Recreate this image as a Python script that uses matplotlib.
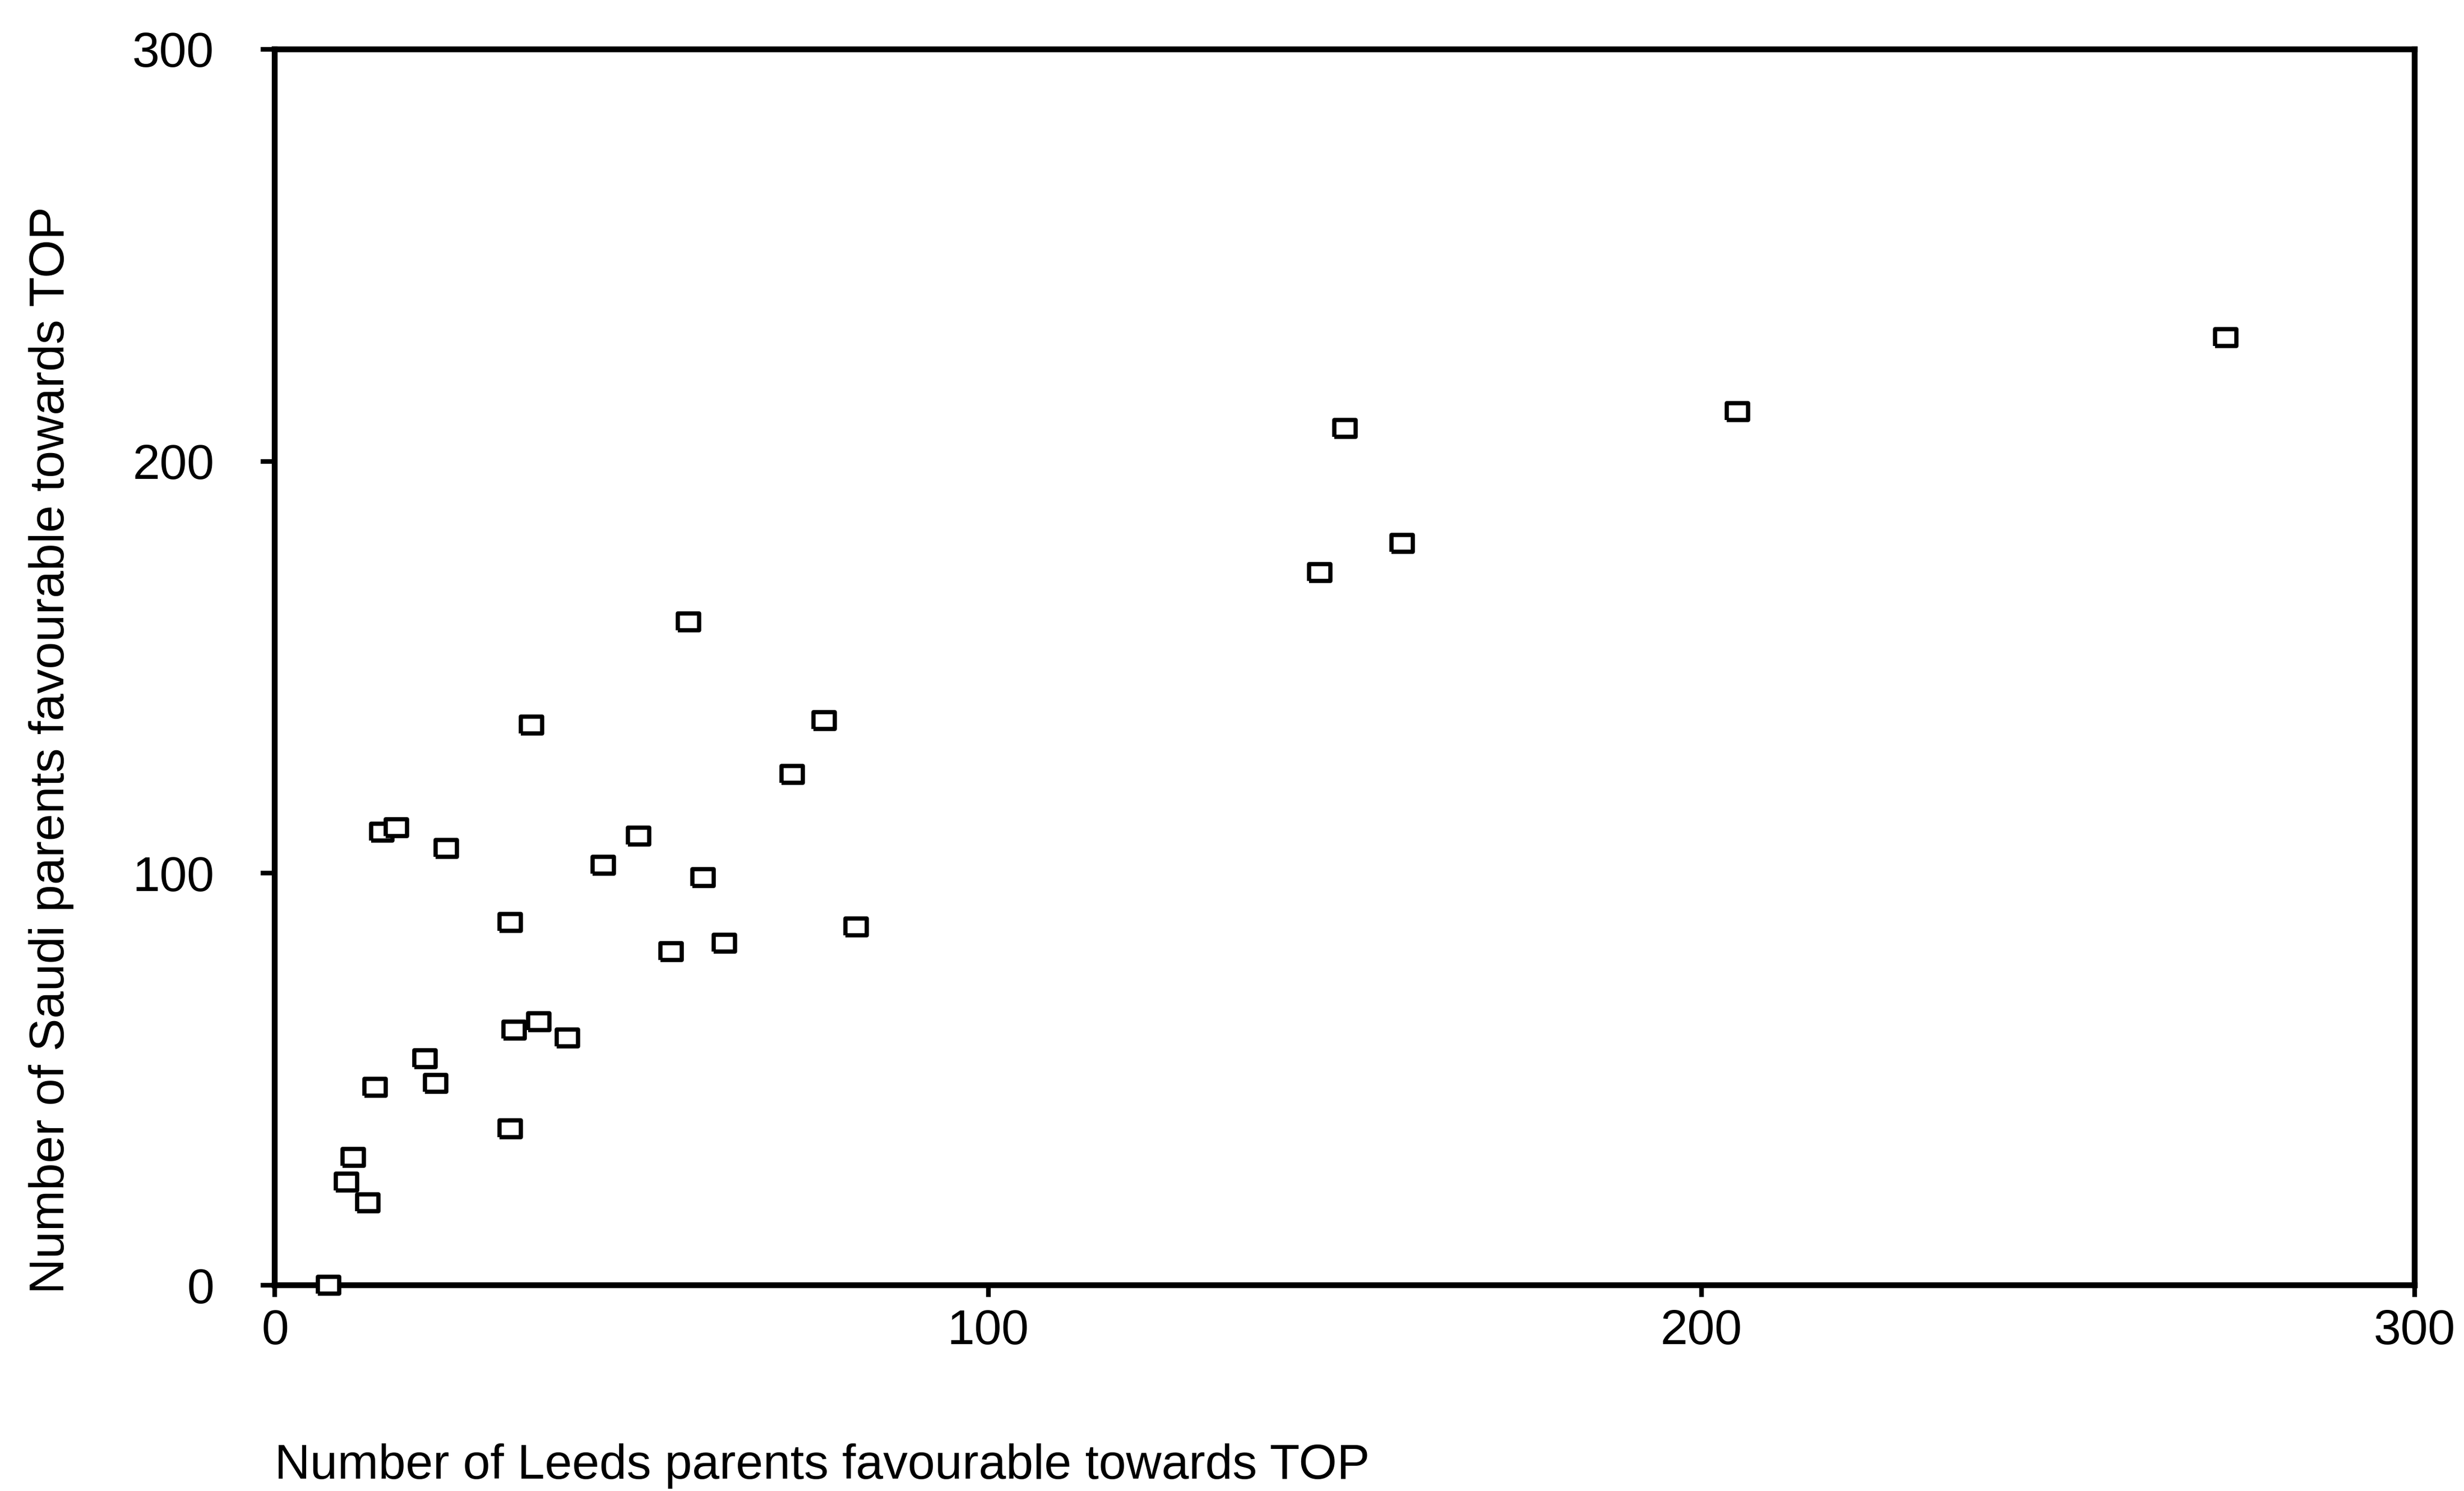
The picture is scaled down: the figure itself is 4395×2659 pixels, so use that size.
import matplotlib
matplotlib.use("Agg")
import matplotlib.pyplot as plt

# Leeds vs Saudi parents favourable towards TOP
leeds = [7.5, 10, 11, 13, 14, 15, 17, 21, 22.5, 24,
         33, 33, 33.5, 37, 36, 41, 46, 51, 55.5, 58,
         60, 63, 72.5, 77, 81.5, 146.5, 150, 158, 205, 273.5]
saudi = [0, 25, 31, 20, 48, 110, 111, 55, 49, 106,
         88, 38, 62, 64, 136, 60, 102, 109, 81, 161,
         99, 83, 124, 137, 87, 173, 208, 180, 212, 230]

ticks = [0, 100, 200, 300]
xlabel = "Number of Leeds parents favourable towards TOP"
ylabel = "Number of Saudi parents favourable towards TOP"

plt.rcParams['font.family'] = ['Liberation Sans', 'DejaVu Sans']
plt.rcParams['font.size'] = 21

fig = plt.figure(figsize=(4395 / 300, 2659 / 300), dpi=300)
ax = fig.add_axes([0.1116, 0.138, 0.8684, 0.829])

# slightly wide open square, like the scanned markers
box = [(-1.24, -1), (1.24, -1), (1.24, 1), (-1.24, 1), (-1.24, -1)]
ax.plot(leeds, saudi, linestyle='none', marker=box, markersize=9,
        markerfacecolor='white', markeredgecolor='black', markeredgewidth=1.8,
        clip_on=False, zorder=3)

ax.set_xlim(0, 300)
ax.set_ylim(0, 300)
ax.set_xticks(ticks)
ax.set_yticks(ticks)

for side in ['left', 'right', 'top', 'bottom']:
    ax.spines[side].set_linewidth(2.5)
    ax.spines[side].set_color('black')

ax.tick_params(axis='x', direction='out', length=5, width=2, pad=5, labelsize=21)
ax.tick_params(axis='y', direction='out', length=6, width=2, pad=20, labelsize=21)

ax.set_xlabel(xlabel, loc='left', fontsize=21)
ax.xaxis.set_label_coords(0.0, -0.128)
ax.set_ylabel(ylabel, fontsize=21)
ax.yaxis.set_label_coords(-0.094, 0.433)

fig.savefig("out.png", dpi=300, facecolor='white')
